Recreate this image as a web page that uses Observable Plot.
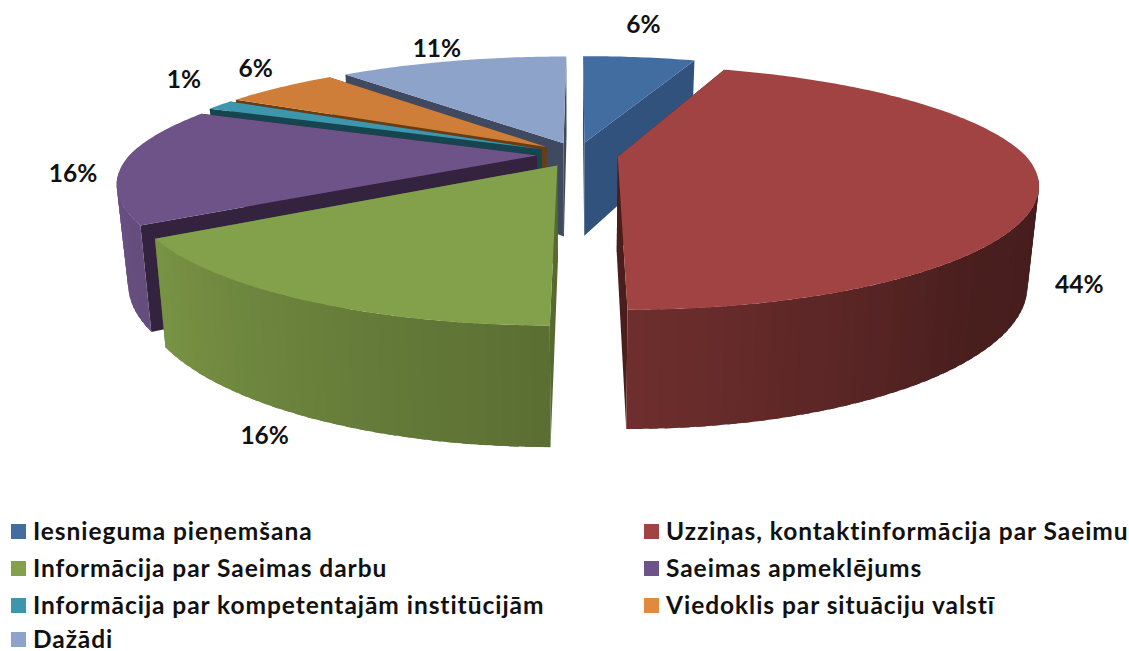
<!DOCTYPE html>
<html><head><meta charset="utf-8">
<script src="https://cdn.jsdelivr.net/npm/d3@7"></script>
<script src="https://cdn.jsdelivr.net/npm/@observablehq/plot@0.6"></script>
<style>
html,body{margin:0;padding:0;background:#fff;overflow:hidden}
#legend{display:grid;grid-template-columns:633px 480px;grid-auto-rows:37px;padding-left:11px;margin-top:3px;font:bold 24.5px/1 Lato,sans-serif;color:#111;letter-spacing:.95px}
#legend div{white-space:nowrap;display:flex;align-items:center}
#legend div:last-child{margin-top:-7px}
#legend i{display:inline-block;width:15px;height:15px;margin-right:7px;flex:none}
</style></head><body>
<div id="chart"></div><div id="legend"></div>
<script>
const categories=["Iesnieguma pieņemšana","Uzziņas, kontaktinformācija par Saeimu","Informācija par Saeimas darbu","Saeimas apmeklējums","Informācija par kompetentajām institūcijām","Viedoklis par situāciju valstī","Dažādi"];
const shares=[5.6,44.4,16,15.5,1.4,5.6,11.4];
const colors=["#426da1","#a04342","#83a04a","#6d5387","#3e96ad","#ce7e38","#8da3c9"];
const legendColors=["#426da1","#a04342","#83a04a","#6d5387","#3e96ad","#e0893f","#8da3c9"];
const wallColors=["#30527c","#4a1e1c","#56692f","#33233f","#17454f","#6a3c12","#3f4a60"];
const paintOrder=[6,0,5,4,3,2,1];
// label placement: radial anchor plus small pixel nudge
const labelNudge=[[0,-25],[10,6],[-12,-2],[-20,-87],[-7,-21],[-2,-13],[-7,-5]];

const W=1129,H=510,cx=577,cy=154,R=407,a=113.5,bxF=.22,bxB=.25,by=.25,h0=95,bh=.2,ex=.1,ey=.108;
const rad=d=>d*Math.PI/180;
const total=d3.sum(shares);
let acc=0;
const slices=shares.map((v,i)=>{const s=acc/total*360;acc+=v;const t=acc/total*360;const m=(s+t)/2;
  return {i,s,t,m,ox:ex*Math.sin(rad(m)),oy:-ey*Math.cos(rad(m))};});
function proj(sl,th,r,low){
  const X=sl.ox+r*Math.sin(rad(th)),Y=sl.oy-r*Math.cos(rad(th));
  let px=cx+R*X/(1-(Y<0?bxB:bxF)*Y),py=cy+a*Y/(1-by*Y);
  if(low){px=cx+(px-cx)*.975;py+=h0/(1-bh*Y);}
  return [px,py];
}
const shade=d3.scaleLinear().domain([0,90,135,180,240,300,360]).range([.42,.42,.46,.69,.93,1,1]);
const dim=(c,f)=>{const q=d3.rgb(c);return d3.rgb(q.r*f,q.g*f,q.b*f).formatHex();};
const layers=[];let id=0;
function poly(pts,color){id++;for(const p of pts)layers.push({id,x:p[0],y:p[1],color});}
for(const k of paintOrder){
  const sl=slices[k];
  for(const th of [sl.s,sl.t])
    poly([proj(sl,0,0,false),proj(sl,th,1,false),proj(sl,th,1,true),proj(sl,0,0,true)],wallColors[k]);
  const steps=Math.max(2,Math.ceil((sl.t-sl.s)/1.8));
  const dt=(sl.t-sl.s)/steps;
  for(let n=0;n<steps;n++){
    const t0=sl.s+dt*n,t1=Math.min(sl.t,t0+dt*1.6);
    if(Math.cos(rad(t0+dt/2))>-.15)continue;
    poly([proj(sl,t0,1,false),proj(sl,t1,1,false),proj(sl,t1,1,true),proj(sl,t0,1,true)],dim(colors[k],shade(t0+dt/2)));
  }
  const top=[proj(sl,0,0,false)];
  for(let n=0;n<=steps*2;n++)top.push(proj(sl,sl.s+(sl.t-sl.s)*n/(steps*2),1,false));
  poly(top,colors[k]);
}
const labels=slices.map(sl=>{
  const front=Math.cos(rad(sl.m))<0;
  const p=proj(sl,sl.m,1.1,front);
  return {x:p[0]+labelNudge[sl.i][0],y:p[1]+labelNudge[sl.i][1],text:Math.round(shares[sl.i])+"%"};
});
const chart=Plot.plot({width:W,height:H,margin:0,
  x:{domain:[0,W],range:[0,W],axis:null},y:{domain:[0,H],range:[0,H],axis:null},
  marks:[
    Plot.line(layers,{x:"x",y:"y",z:"id",fill:{value:"color",scale:null},curve:"linear-closed",stroke:null}),
    Plot.text(labels,{x:"x",y:"y",text:"text",fontSize:24.5,fontWeight:"bold",fontFamily:"Lato, sans-serif",fill:"#111"})
  ]});
document.getElementById("chart").append(chart);
chart.style.display="block";
const lg=document.getElementById("legend");
categories.forEach((c,i)=>{const d=document.createElement("div");const s=document.createElement("i");s.style.background=legendColors[i];d.append(s,document.createTextNode(c));lg.append(d);});
</script></body></html>
